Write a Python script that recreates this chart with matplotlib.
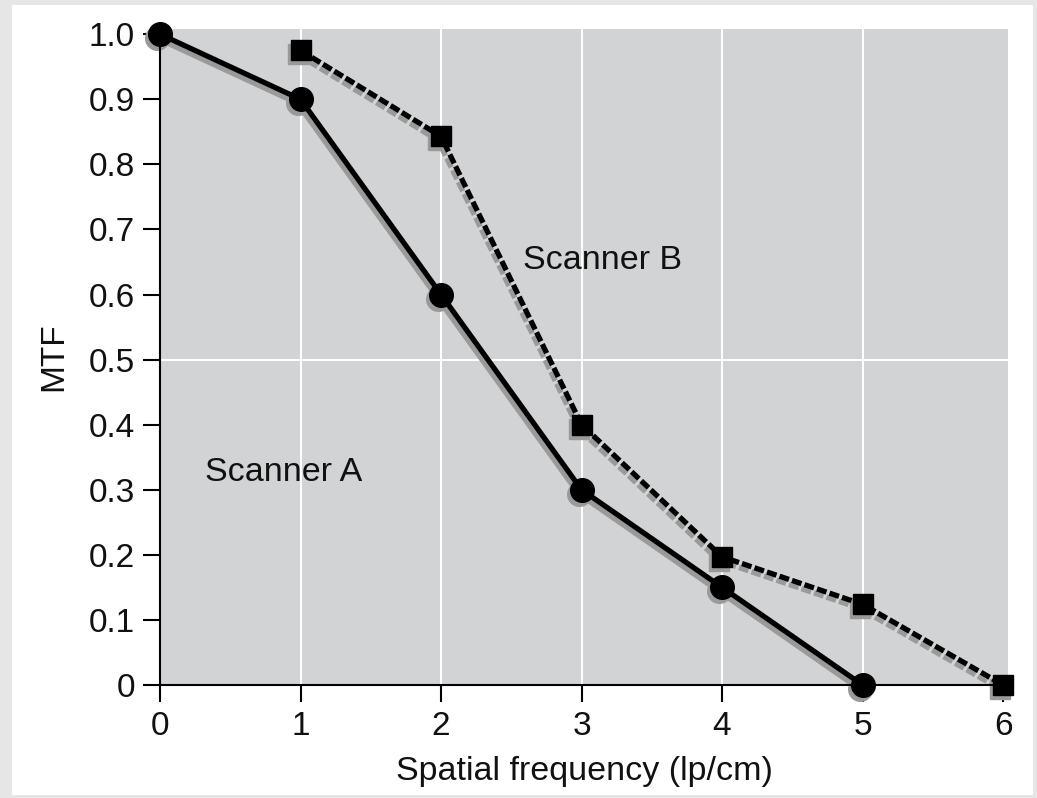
import matplotlib
matplotlib.use("Agg")
import matplotlib.pyplot as plt
import matplotlib.transforms as mtransforms
from matplotlib.patches import Rectangle

freq_a = [0, 1, 2, 3, 4, 5]
mtf_a = [1.0, 0.9, 0.6, 0.3, 0.15, 0.0]
freq_b = [1, 2, 3, 4, 5, 6]
mtf_b = [0.975, 0.843, 0.4, 0.197, 0.124, 0.0]
xticks = [0, 1, 2, 3, 4, 5, 6]
yticks = [0, 0.1, 0.2, 0.3, 0.4, 0.5, 0.6, 0.7, 0.8, 0.9, 1.0]
ytick_labels = ["0", "0.1", "0.2", "0.3", "0.4", "0.5", "0.6", "0.7", "0.8", "0.9", "1.0"]

plt.rcParams['font.family'] = ['Liberation Sans', 'DejaVu Sans']

fig = plt.figure(figsize=(10.37, 7.98), dpi=100)
fig.patch.set_facecolor('#e6e6e6')
bg = Rectangle((12/1037, 3/798), (1033-12)/1037, (793-3)/798,
               transform=fig.transFigure, facecolor='white',
               edgecolor='none', zorder=-10)
fig.add_artist(bg)

ax = fig.add_axes([160/1037, (798-685)/798, (1008-160)/1037, (685-29)/798])
ax.set_zorder(1)
ax.set_facecolor('#d1d3d5')
ax.set_xlim(0, 6.035)
ax.set_ylim(0, 1.008)

for xv in [1, 2, 3, 4, 5]:
    ax.axvline(xv, color='white', lw=1.5, zorder=1)
ax.axhline(0.5, color='white', lw=1.5, zorder=1)

shadow = mtransforms.offset_copy(ax.transData, fig=fig, x=-3, y=-4, units='dots')
sh_col = '#9a9a9a'
lw = 3.8
dash = (0, (1.9, 0.6))

# shadows
ax.plot(freq_a, mtf_a, color=sh_col, lw=lw, marker='o', ms=17, transform=shadow,
        zorder=2, clip_on=False)
ax.plot(freq_b, mtf_b, color=sh_col, lw=lw, ls=dash, marker='s', ms=14.5,
        transform=shadow, zorder=2, clip_on=False)

# main lines
ax.plot(freq_a, mtf_a, color='black', lw=lw, marker='o', ms=17, zorder=4, clip_on=False)
ax.plot(freq_b, mtf_b, color='black', lw=lw, ls=dash, marker='s', ms=14.5,
        zorder=4, clip_on=False)

ax.text(2.58, 0.653, "Scanner B", fontsize=24.5, va='center', ha='left', color='#111111')
ax.text(0.32, 0.326, "Scanner A", fontsize=24.5, va='center', ha='left', color='#111111')

ax.set_xticks(xticks)
ax.set_xticklabels([str(v) for v in xticks])
ax.set_yticks(yticks)
ax.set_yticklabels(ytick_labels)
ax.tick_params(axis='both', direction='out', length=12, width=1.5, labelsize=24,
               color='black', labelcolor='#111111')
ax.tick_params(axis='y', pad=6)
ax.tick_params(axis='x', pad=7)

for s in ['top', 'right']:
    ax.spines[s].set_visible(False)
for s in ['left', 'bottom']:
    ax.spines[s].set_linewidth(1.5)
    ax.spines[s].set_zorder(3)

ax.set_xlabel("Spatial frequency (lp/cm)", fontsize=24.5, labelpad=10, color='#111111')
ax.set_ylabel("MTF", fontsize=24, labelpad=14, color='#111111')

fig.savefig("out.png", dpi=100, facecolor=fig.get_facecolor())
